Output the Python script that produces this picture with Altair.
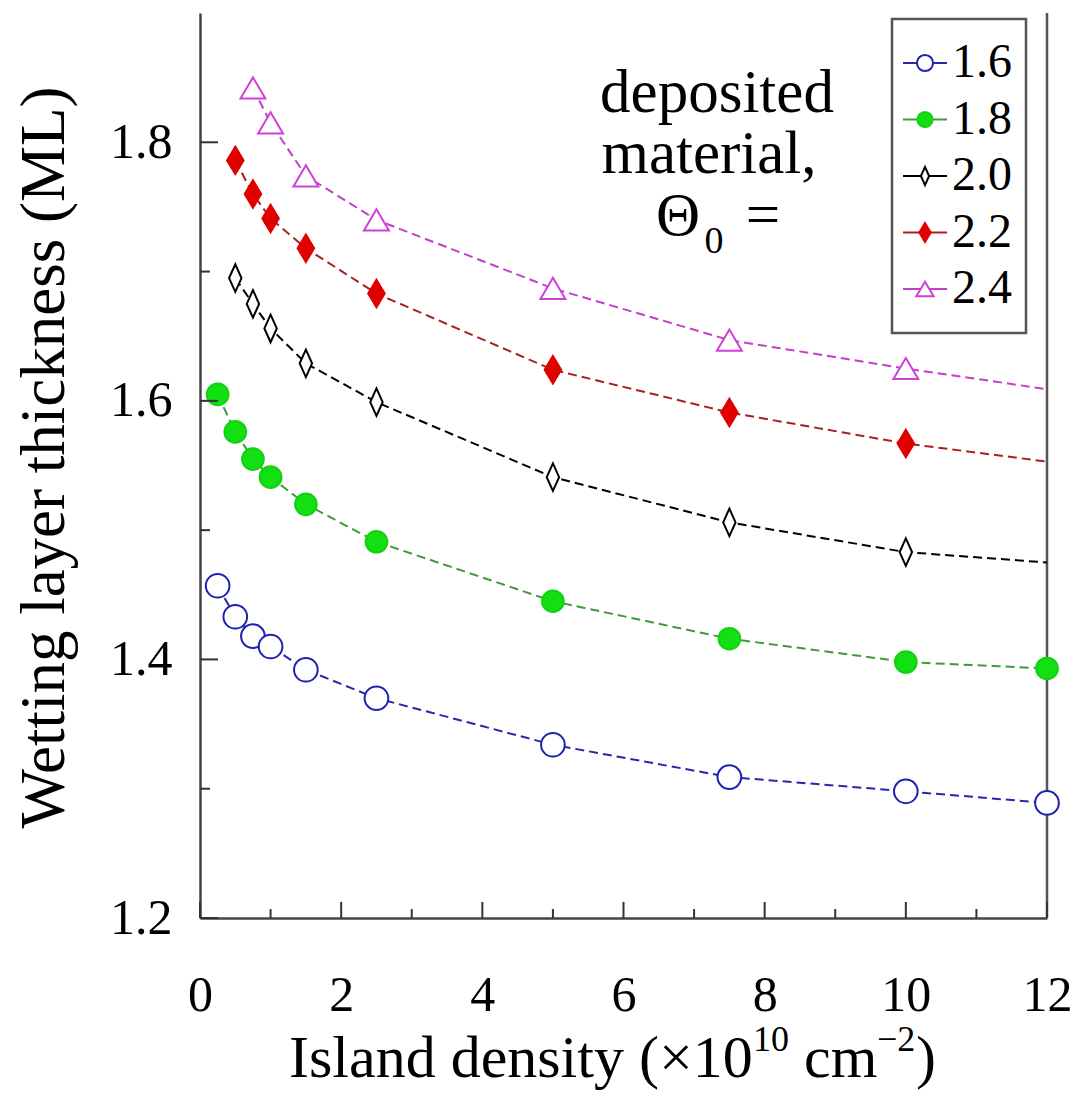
import altair as alt
import pandas as pd

# ---------------- data ----------------
series_labels = ["1.6", "1.8", "2.0", "2.2", "2.4"]
density = [0.25, 0.5, 0.75, 1.0, 1.5, 2.5, 5, 7.5, 10, 12]
wl_16 = [1.457, 1.433, 1.418, 1.410, 1.392, 1.370, 1.334, 1.309, 1.298, 1.289]
wl_18 = [1.605, 1.576, 1.555, 1.541, 1.520, 1.491, 1.445, 1.416, 1.398, 1.393]
wl_20 = [None, 1.695, 1.675, 1.656, 1.629, 1.599, 1.541, 1.506, 1.483, 1.475]
wl_22 = [None, 1.786, 1.760, 1.741, 1.718, 1.683, 1.624, 1.591, 1.567, 1.553]
wl_24 = [None, None, 1.842, 1.815, 1.774, 1.740, 1.687, 1.647, 1.625, 1.609]
# 1 = a marker is drawn at that density, 0 = only the line passes there
mk_16 = [1, 1, 1, 1, 1, 1, 1, 1, 1, 1]
mk_18 = [1, 1, 1, 1, 1, 1, 1, 1, 1, 1]
mk_20 = [0, 1, 1, 1, 1, 1, 1, 1, 1, 0]
mk_22 = [0, 1, 1, 1, 1, 1, 1, 1, 1, 0]
mk_24 = [0, 0, 1, 1, 1, 1, 1, 1, 1, 0]

x_major = [0, 2, 4, 6, 8, 10, 12]
x_minor = [1, 3, 5, 7, 9, 11]
y_major = [1.2, 1.4, 1.6, 1.8]
y_minor = [1.3, 1.5, 1.7]

# ---------------- styles ----------------
FONT = "Liberation Serif"
W, H = 847, 905
line_colors = ["#2828a8", "#3c9c3c", "#000000", "#a82020", "#c040c8"]
mk_stroke = ["#2020b0", "#12d012", "#000000", "#e00000", "#d040d8"]
mk_fill = ["white", "#12e012", "white", "#e00000", "white"]
diamond_narrow = "M0,-1L0.45,0L0,1L-0.45,0Z"
diamond_red = "M0,-1L0.6,0L0,1L-0.6,0Z"
triangle = "M0,-0.85L1,0.85L-1,0.85Z"
mk_shape = ["circle", "circle", diamond_narrow, diamond_red, triangle]
mk_size = [560, 470, 760, 760, 620]
lg_size = [260, 230, 330, 360, 300]

rows = []
for lab, ys, mks in zip(series_labels,
                        [wl_16, wl_18, wl_20, wl_22, wl_24],
                        [mk_16, mk_18, mk_20, mk_22, mk_24]):
    for xv, yv, m in zip(density, ys, mks):
        if yv is not None:
            rows.append({"series": lab, "x": xv, "y": yv, "marker": m})
df = pd.DataFrame(rows)

xscale = alt.Scale(domain=[0, 12], nice=False, zero=False)
yscale = alt.Scale(domain=[1.2, 1.9], nice=False, zero=False)

xaxis = alt.Axis(values=x_major, format="d", grid=False, ticks=False, tickSize=0,
                 domainColor="#444", domainWidth=2.5,
                 labelFont=FONT, labelFontSize=50, labelColor="black",
                 labelBaseline="alphabetic", labelPadding=92, labelFlush=False,
                 title=None)
yaxis = alt.Axis(values=y_major, format=".1f", grid=False, ticks=False, tickSize=0,
                 domainColor="#444", domainWidth=2.5,
                 labelFont=FONT, labelFontSize=50, labelColor="black",
                 labelPadding=28, labelFlush=False,
                 title="Wetting layer thickness (ML)", titleFont=FONT, titleFontSize=63,
                 titleFontWeight="normal", titleColor="black", titleAngle=270,
                 titleX=-156, titleY=444, titleAlign="center", titleBaseline="middle")

X = lambda f="x": alt.X(f"{f}:Q", scale=xscale, axis=xaxis)
Y = lambda f="y": alt.Y(f"{f}:Q", scale=yscale, axis=yaxis)

base = alt.Chart(df)

lines = base.mark_line(strokeWidth=2, strokeDash=[9, 5]).encode(
    x=X(), y=Y(),
    color=alt.Color("series:N", scale=alt.Scale(domain=series_labels, range=line_colors), legend=None),
    order="x:Q",
)

point_layers = []
for i, lab in enumerate(series_labels):
    point_layers.append(
        base.transform_filter((alt.datum.series == lab) & (alt.datum.marker == 1))
        .mark_point(shape=mk_shape[i], size=mk_size[i], filled=True, opacity=1,
                    fill=mk_fill[i], stroke=mk_stroke[i], strokeWidth=2)
        .encode(x=X(), y=Y())
    )

xt_major = alt.Chart(pd.DataFrame({"x": x_major})).mark_rule(color="#333", strokeWidth=2).encode(
    x=X(), y=alt.value(H), y2=alt.value(H - 16))
xt_minor = alt.Chart(pd.DataFrame({"x": x_minor})).mark_rule(color="#333", strokeWidth=2).encode(
    x=X(), y=alt.value(H), y2=alt.value(H - 9))
yt_major = alt.Chart(pd.DataFrame({"y": y_major})).mark_rule(color="#333", strokeWidth=2).encode(
    y=Y(), x=alt.value(0), x2=alt.value(18))
yt_minor = alt.Chart(pd.DataFrame({"y": y_minor})).mark_rule(color="#333", strokeWidth=2).encode(
    y=Y(), x=alt.value(0), x2=alt.value(10))

one = alt.Data(values=[{}])
border = alt.Chart(one).mark_rule(color="#555", strokeWidth=2.5).encode(
    x=alt.value(W), y=alt.value(0), y2=alt.value(H))


def txt(s, x, y, size, align="center", baseline="alphabetic"):
    return alt.Chart(one).mark_text(text=s, font=FONT, fontSize=size, align=align,
                                    baseline=baseline, color="black").encode(
        x=alt.value(x), y=alt.value(y))


# annotation
annot = [
    txt("deposited", 517, 99, 61),
    txt("material,", 509, 160, 61),
    txt("Θ", 478, 222, 61),
    txt("0", 514, 240, 38),
    txt("=", 563, 222, 61),
]

# x-axis title with real superscripts
XT_Y = 1064
xtitle = [
    txt("Island density (×10", 89, XT_Y, 60, align="left"),
    txt("10", 553, XT_Y - 26, 36, align="left"),
    txt("cm", 604, XT_Y, 60, align="left"),
    txt("−2", 677, XT_Y - 26, 36, align="left"),
    txt(")", 716, XT_Y, 60, align="left"),
]

# legend
legend_layers = [alt.Chart(one).mark_rect(fill="white", stroke="#555", strokeWidth=2.5).encode(
    x=alt.value(692), x2=alt.value(826), y=alt.value(6), y2=alt.value(320))]
for i, lab in enumerate(series_labels):
    ly = 50 + i * 56.5
    legend_layers.append(alt.Chart(one).mark_rule(color=line_colors[i], strokeWidth=2).encode(
        x=alt.value(703), x2=alt.value(747), y=alt.value(ly)))
    legend_layers.append(alt.Chart(one).mark_point(
        shape=mk_shape[i], size=lg_size[i], filled=True, opacity=1,
        fill=mk_fill[i], stroke=mk_stroke[i], strokeWidth=2).encode(
        x=alt.value(725), y=alt.value(ly)))
    legend_layers.append(txt(lab, 752, ly, 48, align="left", baseline="middle"))

chart = alt.layer(
    border, lines, *point_layers, xt_major, xt_minor, yt_major, yt_minor,
    *annot, *xtitle, *legend_layers
).properties(
    width=W, height=H,
    autosize=alt.AutoSizeParams(type="none"),
    padding={"left": 200, "top": 13, "right": 24, "bottom": 178},
    background="white",
).configure_view(stroke=None)

chart.save("out.html", embed_options={"renderer": "svg", "actions": False})
